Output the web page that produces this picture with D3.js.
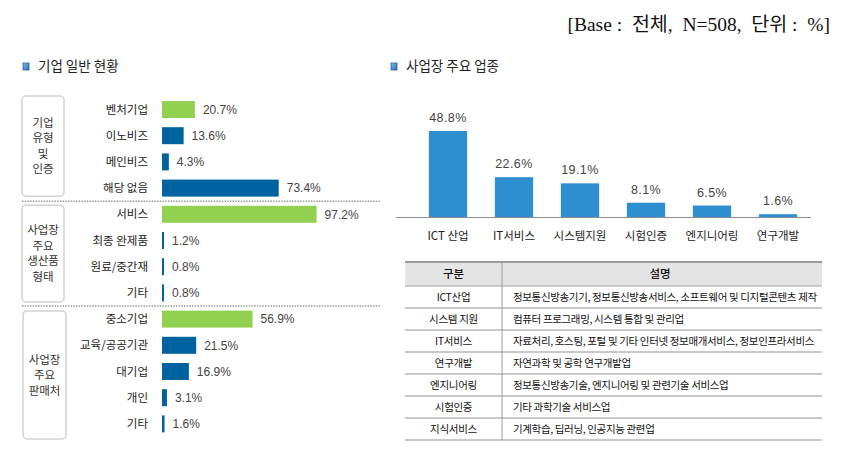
<!DOCTYPE html>
<html><head><meta charset="utf-8">
<script src="https://cdn.jsdelivr.net/npm/d3@7"></script>
<style>
html,body{margin:0;padding:0;background:#fff;}
svg{display:block;}
</style></head>
<body>
<svg id="c" width="842" height="473"></svg>
<script>
// ---- data ----
const leftTitle = "기업 일반 현황";
const rightTitle = "사업장 주요 업종";
const baseNote = "[Base :  전체,  N=508,  단위 :  %]";

const groupNames = [["기업","유형","및","인증"],["사업장","주요","생산품","형태"],["사업장","주요","판매처"]];
const group1Cats = ["벤처기업","이노비즈","메인비즈","해당 없음"];
const group1Vals = [20.7, 13.6, 4.3, 73.4];
const group2Cats = ["서비스","최종 완제품","원료/중간재","기타"];
const group2Vals = [97.2, 1.2, 0.8, 0.8];
const group3Cats = ["중소기업","교육/공공기관","대기업","개인","기타"];
const group3Vals = [56.9, 21.5, 16.9, 3.1, 1.6];

const industryCats = ["ICT 산업","IT서비스","시스템지원","시험인증","엔지니어링","연구개발"];
const industryVals = [48.8, 22.6, 19.1, 8.1, 6.5, 1.6];

const tableHeader = ["구분","설명"];
const tableCol1 = ["ICT산업","시스템 지원","IT서비스","연구개발","엔지니어링","시험인증","지식서비스"];
const tableCol2 = [
  "정보통신방송기기, 정보통신방송서비스, 소프트웨어 및 디지털콘텐츠 제작",
  "컴퓨터 프로그래밍, 시스템 통합 및 관리업",
  "자료처리, 호스팅, 포털 및 기타 인터넷 정보매개서비스, 정보인프라서비스",
  "자연과학 및 공학 연구개발업",
  "정보통신방송기술, 엔지니어링 및 관련기술 서비스업",
  "기타 과학기술 서비스업",
  "기계학습, 딥러닝, 인공지능 관련업"
];

// ---- styles ----
const KR = "'Noto Sans CJK KR','Noto Sans',sans-serif";
const NUM = "'Liberation Sans','Noto Sans CJK KR',sans-serif";
const GREEN = "#92d050", BLUE = "#00629e", BAR2 = "#2d8fd0";

const svg = d3.select("#c");

// top-right note
svg.append("text").attr("x", 830).attr("y", 31).attr("text-anchor", "end")
  .style("white-space", "pre").attr("xml:space", "preserve")
  .attr("font-family", "'Liberation Serif','Noto Sans CJK KR',serif").attr("font-size", 19.5)
  .attr("fill", "#111").text(baseNote);

function titleWithIcon(x, y, txt) {
  const g = svg.append("g");
  const grad = "g" + Math.round(x);
  const defs = svg.append("defs");
  const lg = defs.append("linearGradient").attr("id", grad).attr("x1", 0).attr("y1", 0).attr("x2", 1).attr("y2", 1);
  lg.append("stop").attr("offset", "0%").attr("stop-color", "#7fc4f0");
  lg.append("stop").attr("offset", "100%").attr("stop-color", "#1f6fb3");
  g.append("rect").attr("x", x).attr("y", y - 8).attr("width", 6).attr("height", 7)
    .attr("fill", `url(#${grad})`).attr("stroke", "#2a5f95").attr("stroke-width", 0.8);
  g.append("text").attr("x", x + 15).attr("y", y).attr("font-family", KR).attr("font-size", 13.5)
    .attr("fill", "#222").text(txt);
}
titleWithIcon(23, 71, leftTitle);
titleWithIcon(391, 71, rightTitle);

// ---- left chart ----
const rows = [];
[[group1Cats, group1Vals], [group2Cats, group2Vals], [group3Cats, group3Vals]].forEach(([c, v], gi) => {
  c.forEach((cat, i) => rows.push({ id: gi + "-" + i, cat, val: v[i], group: gi, first: i === 0 }));
});
const y = d3.scalePoint().domain(rows.map(d => d.id)).range([109.5, 423.9]);
const barH = 17;
const xL = d3.scaleLinear().domain([0, 100]).range([162, 321]);

// separators
const sepYs = [
  (y("0-3") + y("1-0")) / 2,
  (y("1-3") + y("2-0")) / 2
];
svg.selectAll("line.sep").data(sepYs).enter().append("line")
  .attr("x1", 22).attr("x2", 380).attr("y1", d => d).attr("y2", d => d)
  .attr("stroke", "#9a9a9a").attr("stroke-width", 1.4).attr("stroke-dasharray", "1.5,1.2");

// group boxes
const boxes = [
  { x: 22, y0: 96, y1: sepYs[0] - 5, w: 42 },
  { x: 22, y0: sepYs[0] + 4, y1: sepYs[1] - 4, w: 42 },
  { x: 23, y0: sepYs[1] + 5, y1: 439, w: 43 }
];
boxes.forEach((b, i) => {
  svg.append("rect").attr("x", b.x).attr("y", b.y0).attr("width", b.w).attr("height", b.y1 - b.y0)
    .attr("rx", 4).attr("fill", "#fff").attr("stroke", "#d2d2d2").attr("stroke-width", 1.5);
  const lines = groupNames[i];
  const lh = 15.5;
  const cy = (b.y0 + b.y1) / 2;
  lines.forEach((t, j) => {
    svg.append("text").attr("x", b.x + b.w / 2).attr("y", cy + (j - (lines.length - 1) / 2) * lh)
      .attr("dy", "0.36em").attr("text-anchor", "middle").attr("font-family", KR)
      .attr("font-size", 11.5).attr("fill", "#333").text(t);
  });
});

// row labels
svg.selectAll("text.rl").data(rows).enter().append("text")
  .attr("x", 148).attr("y", d => y(d.id)).attr("dy", "0.36em").attr("text-anchor", "end")
  .attr("font-family", KR).attr("font-size", 11.5).attr("fill", "#222").text(d => d.cat);

// bars
svg.selectAll("rect.lb").data(rows).enter().append("rect")
  .attr("x", xL(0)).attr("y", d => y(d.id) - barH / 2)
  .attr("width", d => Math.max(xL(d.val) - xL(0), 2)).attr("height", barH)
  .attr("fill", d => d.first ? GREEN : BLUE);

// values
svg.selectAll("text.lv").data(rows).enter().append("text")
  .attr("x", d => Math.max(xL(d.val), xL(0) + 2) + 8).attr("y", d => y(d.id)).attr("dy", "0.36em")
  .attr("font-family", NUM).attr("font-size", 12).attr("fill", "#444").text(d => d.val.toFixed(1) + "%");

// ---- right chart ----
const xR = d3.scaleBand().domain(industryCats).range([415, 811]).paddingInner(0.42).paddingOuter(0.21);
const yR = d3.scaleLinear().domain([0, 48.8]).range([217, 131]);

svg.selectAll("rect.rb").data(industryCats).enter().append("rect")
  .attr("x", d => xR(d)).attr("width", xR.bandwidth())
  .attr("y", (d, i) => yR(industryVals[i])).attr("height", (d, i) => yR(0) - yR(industryVals[i]))
  .attr("fill", BAR2);

svg.selectAll("text.rv").data(industryCats).enter().append("text")
  .attr("x", d => xR(d) + xR.bandwidth() / 2).attr("y", (d, i) => yR(industryVals[i]) - 9)
  .attr("text-anchor", "middle").attr("font-family", NUM).attr("font-size", 12.5)
  .attr("letter-spacing", 0.4).attr("fill", "#444").text((d, i) => industryVals[i].toFixed(1) + "%");

const axisG = svg.append("g").attr("transform", `translate(0,${yR(0)})`)
  .call(d3.axisBottom(xR).tickSize(0).tickPadding(15));
axisG.select(".domain").remove();
axisG.selectAll("text").attr("font-family", KR).attr("font-size", 11.5).attr("fill", "#222");
svg.append("line").attr("x1", 396).attr("x2", 811).attr("y1", yR(0) + 0.5).attr("y2", yR(0) + 0.5)
  .attr("stroke", "#8c8c8c").attr("stroke-width", 1);

// ---- table ----
const tx0 = 405, tx1 = 822, tdiv = 502;
const headTop = 262, headBot = 286, rowH = 22;
const yT = d3.scaleBand().domain(tableCol1).range([headBot, headBot + rowH * tableCol1.length]);

svg.append("rect").attr("x", tx0).attr("y", headTop).attr("width", tx1 - tx0).attr("height", headBot - headTop)
  .attr("fill", "#e4e4e4");
svg.append("line").attr("x1", tx0).attr("x2", tx1).attr("y1", headTop).attr("y2", headTop)
  .attr("stroke", "#9b9b9b").attr("stroke-width", 2);
svg.append("line").attr("x1", tx0).attr("x2", tx1).attr("y1", headBot).attr("y2", headBot)
  .attr("stroke", "#bdbdbd").attr("stroke-width", 1.5);
svg.selectAll("line.tr").data(tableCol1).enter().append("line")
  .attr("x1", tx0).attr("x2", tx1)
  .attr("y1", d => yT(d) + rowH).attr("y2", d => yT(d) + rowH)
  .attr("stroke", "#c8c8c8").attr("stroke-width", 1.8);
svg.append("line").attr("x1", tdiv).attr("x2", tdiv).attr("y1", headTop + 1).attr("y2", yT.range()[1])
  .attr("stroke", "#9b9b9b").attr("stroke-width", 1);

svg.append("text").attr("x", (tx0 + tdiv) / 2).attr("y", (headTop + headBot) / 2).attr("dy", "0.36em")
  .attr("text-anchor", "middle").attr("font-family", KR).attr("font-size", 11.5).attr("font-weight", 500)
  .attr("fill", "#111").text(tableHeader[0]);
svg.append("text").attr("x", 660).attr("y", (headTop + headBot) / 2).attr("dy", "0.36em")
  .attr("text-anchor", "middle").attr("font-family", KR).attr("font-size", 11.5).attr("font-weight", 500)
  .attr("fill", "#111").text(tableHeader[1]);

svg.selectAll("text.tc1").data(tableCol1).enter().append("text")
  .attr("x", (tx0 + tdiv) / 2).attr("y", d => yT(d) + rowH / 2).attr("dy", "0.36em")
  .attr("text-anchor", "middle").attr("font-family", KR).attr("font-size", 10.5)
  .attr("letter-spacing", -0.3).attr("fill", "#111").text(d => d);
svg.selectAll("text.tc2").data(tableCol2).enter().append("text")
  .attr("x", 513).attr("y", (d, i) => yT(tableCol1[i]) + rowH / 2).attr("dy", "0.36em")
  .attr("font-family", KR).attr("font-size", 10.5).attr("letter-spacing", -0.35)
  .attr("fill", "#111").text(d => d);
</script>
</body></html>
